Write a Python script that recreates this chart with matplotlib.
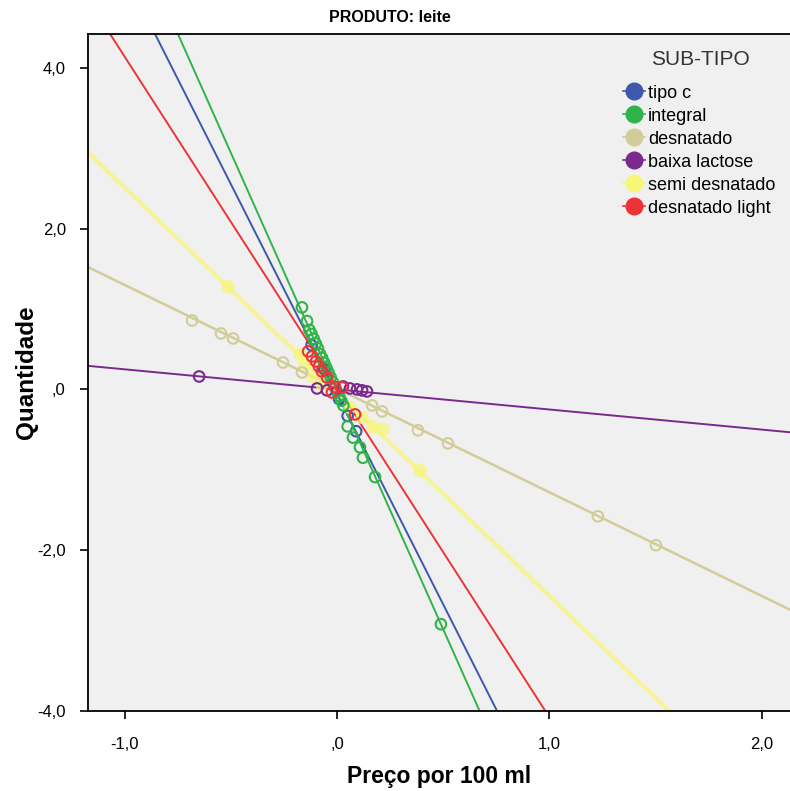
import matplotlib
matplotlib.use("Agg")
import matplotlib.pyplot as plt
from matplotlib.lines import Line2D
from matplotlib.ticker import FuncFormatter

plt.rcParams['font.family'] = ['Liberation Sans', 'DejaVu Sans']

SUBTIPOS = ['tipo c', 'integral', 'desnatado', 'baixa lactose', 'semi desnatado', 'desnatado light']
CORES = ['#3e58ac', '#2fb44a', '#d2cd98', '#7a2a8c', '#f8f67a', '#ee3338']

# retas de ajuste (inclinação, intercepto)
INCLINACAO = [-5.23, -5.93, -1.29, -0.25, -2.54, -4.11]
INTERCEPTO = [-0.06, -0.02, 0.01, 0.0, -0.03, 0.03]

tipo_c_x = [-0.12, -0.06, 0.01, 0.05, 0.09]
tipo_c_y = [0.55, 0.25, -0.12, -0.33, -0.52]

integral_x = [-0.165, -0.141, -0.13, -0.12, -0.11, -0.10, -0.09, -0.08, -0.07, -0.06,
              -0.05, -0.04, -0.03, -0.02, -0.01, 0.0, 0.01, 0.02, 0.03, 0.05,
              0.075, 0.108, 0.122, 0.179, 0.489]
integral_y = [1.02, 0.85, 0.74, 0.69, 0.63, 0.57, 0.51, 0.44, 0.39, 0.33,
              0.27, 0.21, 0.15, 0.09, 0.03, -0.03, -0.08, -0.14, -0.20, -0.46,
              -0.60, -0.72, -0.85, -1.09, -2.92]

desnatado_x = [-0.682, -0.546, -0.489, -0.254, -0.165, 0.165, 0.212, 0.381, 0.522, 1.228, 1.501]
desnatado_y = [0.857, 0.696, 0.634, 0.335, 0.211, -0.199, -0.273, -0.509, -0.671, -1.578, -1.938]

lactose_x = [-0.649, -0.094, -0.047, 0.028, 0.061, 0.094, 0.118, 0.141]
lactose_y = [0.161, 0.012, -0.012, 0.037, 0.012, 0.0, -0.012, -0.025]

semi_x = [-0.513, -0.174, -0.151, -0.113, -0.071, 0.061, 0.118, 0.169, 0.216, 0.391]
semi_y = [1.28, 0.435, 0.311, 0.161, 0.062, -0.224, -0.348, -0.46, -0.497, -1.006]

light_x = [-0.136, -0.118, -0.099, -0.085, -0.071, -0.047, -0.009, 0.024, -0.024, 0.085]
light_y = [0.472, 0.41, 0.348, 0.286, 0.224, 0.149, 0.025, 0.025, -0.037, -0.311]

PONTOS_X = [tipo_c_x, integral_x, desnatado_x, lactose_x, semi_x, light_x]
PONTOS_Y = [tipo_c_y, integral_y, desnatado_y, lactose_y, semi_y, light_y]

fig = plt.figure(figsize=(7.9, 7.91), dpi=100)
ax = fig.add_axes([0.1114, 0.1011, 0.8886, 0.8559])
ax.set_facecolor('#f0f0f0')

larguras = [1.4, 1.4, 1.8, 1.4, 3.0, 1.4]
alfas = [1, 1, 1, 1, 0.75, 1]
for i, nome in enumerate(SUBTIPOS):
    ax.axline((0, INTERCEPTO[i]), slope=INCLINACAO[i], color=CORES[i],
              lw=larguras[i], alpha=alfas[i], zorder=2)

for i, nome in enumerate(SUBTIPOS):
    if nome == 'semi desnatado':
        ax.scatter(PONTOS_X[i], PONTOS_Y[i], s=95, color=CORES[i], alpha=0.75,
                   edgecolors='none', zorder=3)
    else:
        ax.scatter(PONTOS_X[i], PONTOS_Y[i], s=58, facecolors='none',
                   edgecolors=CORES[i], linewidths=1.5, zorder=4)

ax.set_xlim(-1.172, 2.132)
ax.set_ylim(-4.0, 4.42)
ax.set_xticks([-1.0, 0.0, 1.0, 2.0])
ax.set_yticks([-4.0, -2.0, 0.0, 2.0, 4.0])


def virgula(v, pos):
    s = f"{v:.1f}".replace('.', ',')
    if s in ('0,0', '-0,0'):
        return ',0'
    return s


ax.xaxis.set_major_formatter(FuncFormatter(virgula))
ax.yaxis.set_major_formatter(FuncFormatter(virgula))
ax.tick_params(direction='out', length=6, width=1.2, labelsize=12, colors='black')
ax.tick_params(axis='x', pad=13)
ax.tick_params(axis='y', pad=10)
for lado in ['left', 'bottom', 'top']:
    ax.spines[lado].set_linewidth(1.3)
ax.spines['right'].set_visible(False)

ax.set_xlabel('Preço por 100 ml', fontsize=16.5, fontweight='bold', labelpad=9)
ax.set_ylabel('Quantidade', fontsize=17.5, fontweight='bold')
ax.yaxis.set_label_coords(-0.071, 0.5)
fig.text(0.494, 0.978, 'PRODUTO: leite', ha='center', va='center',
         fontsize=11.5, fontweight='bold')

# legenda: título separado para reproduzir o espaçamento do SPSS
ax.text(0.872, 0.962, 'SUB-TIPO', transform=ax.transAxes, ha='center',
        va='center', fontsize=15, color='#333333')
handles = [Line2D([0], [0], color=c, marker='o', markersize=12, lw=1.2,
                  markerfacecolor=c, markeredgecolor=c) for c in CORES]
leg = ax.legend(handles, SUBTIPOS, loc='upper left',
                bbox_to_anchor=(0.762, 0.925), frameon=False, fontsize=13,
                handlelength=1.2, handletextpad=0.2, labelspacing=0.33,
                borderaxespad=0, borderpad=0)

fig.savefig('out.png', dpi=100)
